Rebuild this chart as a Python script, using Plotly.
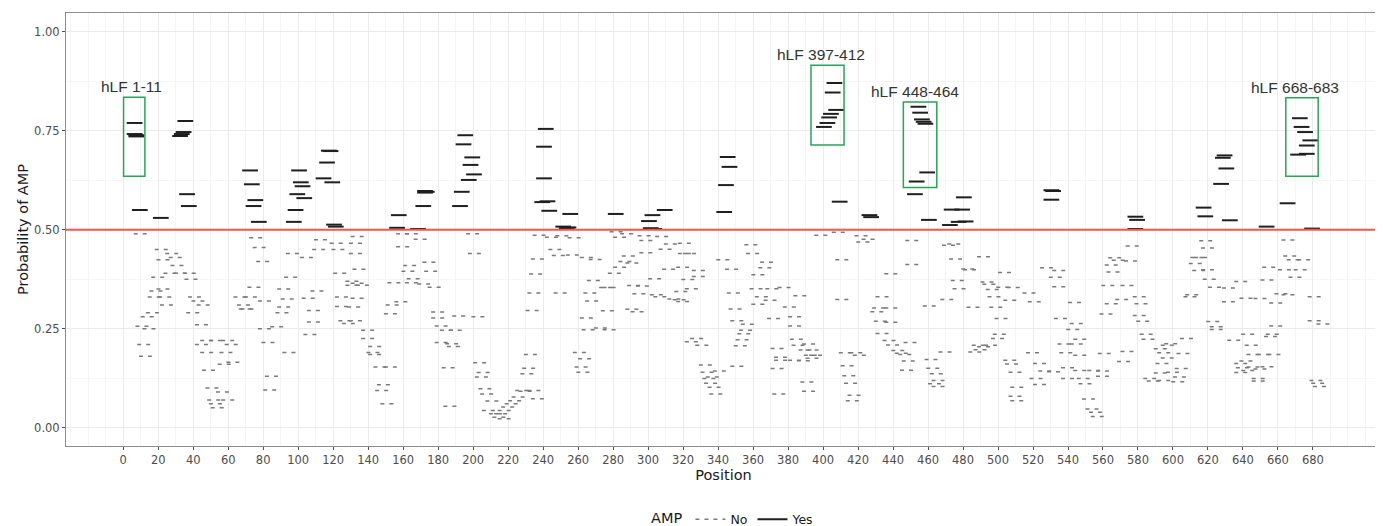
import plotly.graph_objects as go

# ---------------- data ----------------
PEP_LEN = 9  # peptide span drawn by each segment (positions)

# AMP = Yes (probability > 0.5), start position / probability
yes_start = [2, 2, 3, 3, 5, 17, 28, 29, 30, 31, 32, 33, 68, 69, 70, 71, 73,
             93, 94, 95, 96, 97, 98, 99, 110, 112, 113, 114, 115, 116, 117,
             152, 153, 164, 167, 168, 168, 169, 188, 189, 190, 191, 193, 194, 195, 196,
             235, 236, 236, 237, 238, 239, 247, 249, 250, 251,
             277, 296, 297, 298, 299, 305, 339, 340, 341, 342,
             396, 398, 399, 400, 401, 402, 403, 405, 422, 423,
             448, 449, 450, 451, 452, 453, 454, 455, 456, 468, 469, 473, 475, 476, 477,
             526, 526, 527, 574, 574, 575, 613, 614, 623, 624, 625, 626, 628,
             649, 661, 667, 668, 669, 671, 672, 672, 674, 675]
yes_prob = [0.77, 0.742, 0.739, 0.736, 0.55, 0.53, 0.737, 0.742, 0.747, 0.775, 0.59, 0.56, 0.65, 0.615, 0.56, 0.575, 0.52,
            0.52, 0.55, 0.59, 0.65, 0.62, 0.61, 0.58, 0.63, 0.67, 0.70, 0.699, 0.62, 0.513, 0.508,
            0.505, 0.537, 0.502, 0.56, 0.598, 0.594, 0.596, 0.56, 0.596, 0.716, 0.739, 0.626, 0.664, 0.683, 0.64,
            0.57, 0.71, 0.63, 0.755, 0.572, 0.548, 0.508, 0.504, 0.506, 0.54,
            0.54, 0.522, 0.504, 0.537, 0.502, 0.55, 0.545, 0.613, 0.684, 0.659,
            0.76, 0.77, 0.784, 0.793, 0.847, 0.871, 0.803, 0.571, 0.537, 0.532,
            0.59, 0.622, 0.811, 0.796, 0.779, 0.773, 0.768, 0.645, 0.525, 0.512, 0.551, 0.52, 0.551, 0.582, 0.521,
            0.6, 0.576, 0.598, 0.533, 0.502, 0.525, 0.556, 0.534, 0.616, 0.682, 0.688, 0.655, 0.524,
            0.508, 0.567, 0.69, 0.782, 0.76, 0.747, 0.713, 0.692, 0.726, 0.503]

# AMP = No, positions 1-130
no_start_a = [6, 7, 8, 9, 10, 11, 13, 14, 15, 16, 18, 19, 19, 20, 21, 23, 24, 26, 27, 29,
              34, 35, 36, 37, 39, 41, 41, 42, 44, 44, 45, 47, 48, 49, 49, 50, 53, 54, 55, 56,
              56, 58, 59, 63, 65, 66, 67, 69, 71, 72, 74, 76, 77, 77, 79, 80, 81, 84, 87, 88,
              88, 90, 91, 92, 93, 101, 102, 103, 105, 105, 107, 108, 109, 118, 119, 120, 121, 121,
              123, 125, 127]
no_prob_a = [0.49, 0.256, 0.21, 0.18, 0.28, 0.25, 0.29, 0.33, 0.345, 0.38, 0.45, 0.424, 0.35, 0.33, 0.31, 0.39, 0.44, 0.43, 0.41, 0.39,
             0.39, 0.375, 0.29, 0.33, 0.32, 0.26, 0.21, 0.31, 0.22, 0.19, 0.145, 0.10, 0.07, 0.22, 0.06, 0.05, 0.09, 0.16, 0.19, 0.22,
             0.07, 0.21, 0.165, 0.33, 0.31, 0.30, 0.30, 0.33, 0.355, 0.48, 0.455, 0.42, 0.32, 0.25, 0.215, 0.095, 0.13, 0.255, 0.29, 0.35,
             0.305, 0.325, 0.19, 0.38, 0.44, 0.43, 0.327, 0.235, 0.296, 0.267, 0.345, 0.45, 0.475, 0.466, 0.45, 0.39, 0.33, 0.306,
             0.27, 0.263, 0.36]

# AMP = No, positions 127-256
no_start_b = [127, 128, 129, 129, 129, 130, 130, 130, 131, 133, 136, 136, 139, 140, 140, 143, 144, 145, 147, 149,
              149, 150, 151, 155, 156, 156, 159, 160, 161, 161, 162, 166, 168, 171, 172, 174, 176, 176, 178, 178,
              181, 182, 183, 184, 185, 186, 188, 196, 197, 199, 200, 201, 202, 203, 204, 205, 207, 209, 211, 212,
              214, 214, 216, 218, 220, 222, 224, 226, 227, 228, 229, 230, 231, 231, 232, 233, 233, 234, 241, 243,
              245, 246, 247, 253, 254]
no_prob_b = [0.37, 0.305, 0.466, 0.44, 0.27, 0.483, 0.365, 0.327, 0.40, 0.36, 0.246, 0.225, 0.19, 0.205, 0.185, 0.153, 0.094, 0.108, 0.06, 0.153,
             0.288, 0.31, 0.366, 0.318, 0.457, 0.49, 0.395, 0.41, 0.49, 0.366, 0.376, 0.476, 0.363, 0.418, 0.395, 0.355, 0.292, 0.277, 0.257, 0.215,
             0.246, 0.151, 0.054, 0.212, 0.205, 0.246, 0.282, 0.49, 0.44, 0.28, 0.164, 0.128, 0.139, 0.098, 0.085, 0.043, 0.067, 0.035, 0.026, 0.035,
             0.022, 0.043, 0.052, 0.06, 0.068, 0.077, 0.094, 0.092, 0.136, 0.15, 0.185, 0.296, 0.34, 0.094, 0.388, 0.426, 0.073, 0.486, 0.481, 0.45,
             0.435, 0.34, 0.485, 0.436, 0.48]

# AMP = No, positions 257-383
no_start_c = [257, 258, 259, 260, 261, 261, 262, 263, 264, 265, 266, 269, 272, 273, 274, 274, 277, 278, 280, 280,
              283, 284, 285, 287, 287, 288, 290, 291, 293, 294, 295, 295, 300, 301, 303, 304, 306, 308, 309, 311,
              314, 315, 316, 316, 317, 317, 319, 320, 321, 321, 324, 325, 325, 327, 329, 330, 331, 332, 333, 334,
              335, 337, 339, 344, 345, 346, 347, 347, 349, 350, 351, 352, 353, 355, 356, 358, 359, 359, 361, 363,
              364, 366, 367, 368, 370, 370, 371, 372, 372, 374, 377, 380, 380, 382, 383]
no_prob_c = [0.19, 0.153, 0.14, 0.174, 0.43, 0.277, 0.247, 0.34, 0.32, 0.372, 0.425, 0.252, 0.354, 0.295, 0.247, 0.354, 0.39, 0.495, 0.481, 0.405,
             0.42, 0.49, 0.434, 0.416, 0.299, 0.359, 0.293, 0.338, 0.358, 0.485, 0.473, 0.442, 0.376, 0.336, 0.331, 0.483, 0.451, 0.4, 0.464, 0.325,
             0.323, 0.344, 0.405, 0.319, 0.466, 0.44, 0.374, 0.44, 0.351, 0.217, 0.225, 0.397, 0.382, 0.208, 0.158, 0.14, 0.124, 0.112, 0.128, 0.102,
             0.085, 0.143, 0.424, 0.4, 0.34, 0.3, 0.155, 0.27, 0.207, 0.222, 0.237, 0.246, 0.261, 0.462, 0.44, 0.351, 0.386, 0.312, 0.331, 0.404,
             0.418, 0.322, 0.351, 0.276, 0.2, 0.149, 0.085, 0.178, 0.17, 0.354, 0.305, 0.17, 0.28, 0.208, 0.333]

# AMP = No, positions 380-507
no_start_d = [380, 381, 385, 386, 387, 388, 388, 389, 390, 390, 392, 395, 405, 407, 407, 409, 410, 411, 412, 413,
              414, 415, 417, 418, 419, 422, 427, 428, 429, 430, 430, 434, 435, 435, 435, 436, 439, 441, 443, 444,
              445, 446, 447, 447, 457, 458, 459, 460, 461, 462, 462, 466, 467, 468, 471, 472, 473, 474, 479, 480,
              482, 483, 485, 486, 488, 488, 490, 491, 492, 493, 494, 495, 496, 497, 498, 499, 500, 503, 503, 504,
              505, 506, 506, 507, 507]
no_prob_d = [0.257, 0.223, 0.169, 0.196, 0.115, 0.211, 0.092, 0.183, 0.196, 0.175, 0.183, 0.486, 0.494, 0.424, 0.324, 0.189, 0.156, 0.131, 0.112, 0.068,
             0.082, 0.189, 0.183, 0.485, 0.469, 0.476, 0.293, 0.302, 0.269, 0.331, 0.238, 0.22, 0.389, 0.302, 0.266, 0.209, 0.195, 0.188, 0.185, 0.145,
             0.168, 0.215, 0.473, 0.412, 0.307, 0.172, 0.15, 0.111, 0.136, 0.119, 0.104, 0.191, 0.324, 0.461, 0.464, 0.426, 0.372, 0.351, 0.401, 0.399,
             0.304, 0.191, 0.208, 0.197, 0.432, 0.204, 0.368, 0.362, 0.208, 0.349, 0.331, 0.304, 0.225, 0.236, 0.276, 0.355, 0.392, 0.17, 0.322, 0.161,
             0.354, 0.14, 0.079, 0.102, 0.068]

# AMP = No, positions 514-682
no_start_e = [514, 516, 517, 518, 520, 520, 523, 524, 528, 529, 531, 531, 532, 534, 535, 536, 536, 539, 540, 541,
              541, 543, 543, 543, 545, 546, 548, 550, 551, 552, 553, 556, 556, 557, 558, 559, 561, 561, 562, 563,
              565, 567, 568, 570, 570, 572, 573, 577, 577, 578, 579, 581, 582, 583, 585, 589, 589, 590, 591, 591,
              593, 593, 595, 596, 599, 600, 601, 602, 604, 606, 607, 609, 610, 611, 612, 615, 616, 616, 617, 619,
              620, 621, 621, 628, 628, 631, 635, 635, 635, 636, 638, 638, 639, 639, 641, 642, 642, 645, 645, 646,
              646, 648, 650, 650, 651, 652, 653, 654, 655, 655, 658, 660, 662, 662, 663, 665, 666, 669, 671, 677,
              677, 678, 679, 680, 682]
no_prob_e = [0.34, 0.189, 0.318, 0.124, 0.162, 0.109, 0.143, 0.404, 0.141, 0.38, 0.397, 0.356, 0.276, 0.211, 0.189, 0.151, 0.124, 0.248, 0.316, 0.263,
             0.211, 0.223, 0.183, 0.144, 0.124, 0.111, 0.072, 0.047, 0.144, 0.039, 0.028, 0.143, 0.13, 0.187, 0.287, 0.359, 0.313, 0.411, 0.393, 0.429,
             0.423, 0.324, 0.167, 0.359, 0.192, 0.421, 0.459, 0.331, 0.283, 0.313, 0.269, 0.236, 0.223, 0.124, 0.118, 0.199, 0.138, 0.162, 0.189, 0.119,
             0.208, 0.176, 0.212, 0.14, 0.116, 0.128, 0.149, 0.187, 0.225, 0.331, 0.336, 0.415, 0.43, 0.397, 0.43, 0.472, 0.454, 0.399, 0.375, 0.268,
             0.355, 0.255, 0.248, 0.353, 0.318, 0.221, 0.162, 0.139, 0.369, 0.151, 0.327, 0.168, 0.236, 0.144, 0.208, 0.185, 0.153, 0.124, 0.118, 0.326,
             0.148, 0.185, 0.373, 0.154, 0.405, 0.23, 0.236, 0.185, 0.315, 0.257, 0.338, 0.399, 0.474, 0.336, 0.434, 0.424, 0.38, 0.399, 0.424, 0.331,
             0.27, 0.119, 0.112, 0.104, 0.262]

# highlighted regions
region_labels = ["hLF 1-11", "hLF 397-412", "hLF 448-464", "hLF 668-683"]
region_x0 = [0.2, 393.1, 445.9, 664.5]
region_x1 = [12.4, 412.0, 465.0, 683.0]
region_y0 = [0.635, 0.714, 0.607, 0.635]
region_y1 = [0.835, 0.916, 0.823, 0.834]
label_x = [5.0, 399.0, 452.6, 670.0]

x_ticks = list(range(0, 681, 20))
y_ticks = [0, 0.25, 0.5, 0.75, 1.0]
y_ticktext = ["0.00", "0.25", "0.50", "0.75", "1.00"]
threshold = 0.5


def seg_xy(starts, probs):
    xs, ys = [], []
    for s, p in zip(starts, probs):
        xs += [s, s + PEP_LEN, None]
        ys += [p, p, None]
    return xs, ys


no_start = no_start_a + no_start_b + no_start_c + no_start_d + no_start_e
no_prob = no_prob_a + no_prob_b + no_prob_c + no_prob_d + no_prob_e

fig = go.Figure()
nx, ny = seg_xy(no_start, no_prob)
fig.add_trace(go.Scatter(x=nx, y=ny, mode="lines", name="No",
                         line=dict(color="#7a7a7a", width=1.5, dash="4px,5px"),
                         hoverinfo="skip"))
yx, yy = seg_xy(yes_start, yes_prob)
fig.add_trace(go.Scatter(x=yx, y=yy, mode="lines", name="Yes",
                         line=dict(color="#1f1f1f", width=2),
                         hoverinfo="skip"))

# threshold line
fig.add_shape(type="line", xref="paper", x0=0, x1=1, yref="y", y0=threshold, y1=threshold,
              line=dict(color="#F2574E", width=2))

for lab, x0, x1, y0, y1, lx in zip(region_labels, region_x0, region_x1, region_y0, region_y1, label_x):
    fig.add_shape(type="rect", xref="x", yref="y", x0=x0, x1=x1, y0=y0, y1=y1,
                  line=dict(color="#27a556", width=1.5), fillcolor="rgba(0,0,0,0)")
    fig.add_annotation(x=lx, y=y1, xref="x", yref="y", text=lab, showarrow=False,
                       yanchor="bottom", yshift=0,
                       font=dict(family="Liberation Sans, Arial, sans-serif", size=15.5, color="#333333"))

axis_common = dict(
    showgrid=True, gridcolor="#ebebeb", gridwidth=1,
    zeroline=False, showline=True, linecolor="#8c8c8c", linewidth=1, mirror=True,
    ticks="outside", ticklen=3, tickcolor="#4d4d4d", automargin=False,
    tickfont=dict(family="DejaVu Sans, sans-serif", size=11.5, color="#4d4d4d"),
)

# the page body has an 8px margin, so the figure is 8px smaller than the window
fig.update_layout(
    width=1375, height=518,
    margin=dict(l=58, r=2, t=5, b=80, autoexpand=False),
    paper_bgcolor="white", plot_bgcolor="white",
    font=dict(family="DejaVu Sans, sans-serif", color="#1a1a1a"),
    xaxis=dict(range=[-32.7, 718.9], tickvals=x_ticks,
               title=dict(text="Position", font=dict(size=14.5, color="#1a1a1a"), standoff=4),
               minor=dict(dtick=10, tick0=0, showgrid=True, gridcolor="#f5f5f5", ticks=""),
               **axis_common),
    yaxis=dict(range=[-0.0466, 1.048], tickvals=y_ticks, ticktext=y_ticktext,
               title=dict(text="Probability of AMP", font=dict(size=14.5, color="#1a1a1a"), standoff=2),
               minor=dict(dtick=0.125, tick0=0, showgrid=True, gridcolor="#f5f5f5", ticks=""),
               **axis_common),
    showlegend=True,
    legend=dict(orientation="h", x=0.508, xanchor="center", y=-0.17, yanchor="middle",
                title=dict(text="AMP", side="left", font=dict(size=14.5, color="#1a1a1a")),
                font=dict(size=12.5, color="#1a1a1a"), itemwidth=30, bgcolor="rgba(0,0,0,0)"),
)

fig.write_html("out.html")
